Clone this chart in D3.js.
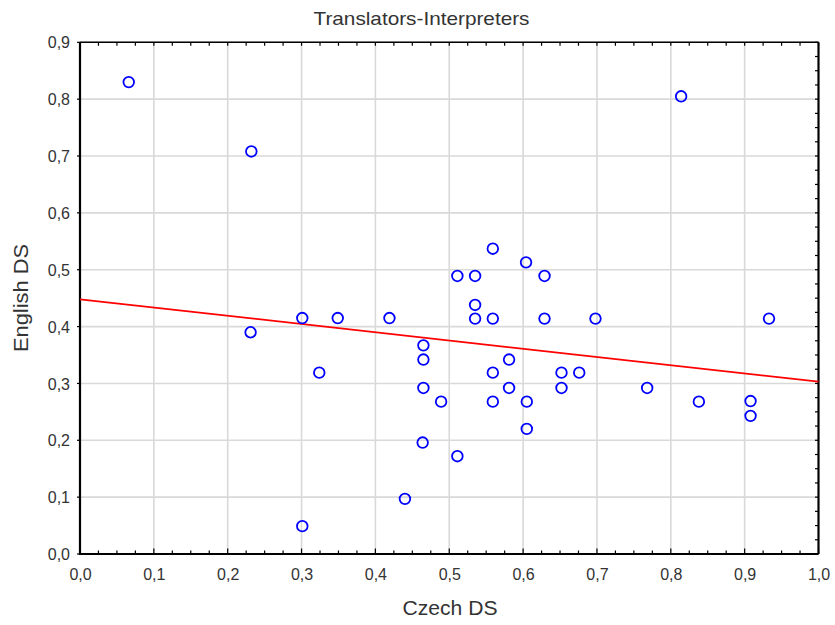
<!DOCTYPE html>
<html>
<head>
<meta charset="utf-8">
<script src="https://cdn.jsdelivr.net/npm/d3@7/dist/d3.min.js"></script>
<style>
  html, body { margin: 0; padding: 0; background: #fff; }
  svg { display: block; }
  text { font-family: Arial, "Liberation Sans", sans-serif; fill: #333; }
</style>
</head>
<body>
<svg id="chart" width="835" height="625"></svg>
<script>
// Scatter of Czech DS vs English DS scores (translators-interpreters group)
const czechDS = [
  0.066, 0.232, 0.814, 0.231, 0.301, 0.349, 0.419, 0.324, 0.301, 0.440,
  0.465, 0.465, 0.465, 0.489, 0.464, 0.511, 0.559, 0.559, 0.581, 0.581,
  0.605, 0.605, 0.652, 0.652, 0.676, 0.768, 0.838, 0.908, 0.908, 0.933,
  0.535, 0.559, 0.629, 0.698, 0.535, 0.559, 0.604, 0.511, 0.535, 0.629
];
const englishDS = [
  0.830, 0.708, 0.805, 0.390, 0.415, 0.415, 0.415, 0.319, 0.049, 0.097,
  0.367, 0.342, 0.292, 0.268, 0.196, 0.172, 0.319, 0.268, 0.342, 0.292,
  0.268, 0.220, 0.319, 0.292, 0.319, 0.292, 0.268, 0.269, 0.243, 0.414,
  0.414, 0.414, 0.414, 0.414, 0.438, 0.537, 0.513, 0.489, 0.489, 0.489
];
// Linear fit line: English DS = intercept + slope * Czech DS
const fitIntercept = 0.448;
const fitSlope = -0.145;

const xTicks = [0, 0.1, 0.2, 0.3, 0.4, 0.5, 0.6, 0.7, 0.8, 0.9, 1.0];
const yTicks = [0, 0.1, 0.2, 0.3, 0.4, 0.5, 0.6, 0.7, 0.8, 0.9];
const xMinor = d3.range(0, 1.0001, 0.025);
const yMinor = d3.range(0, 0.9001, 0.025);

const titleText = "Translators-Interpreters";
const xTitle = "Czech DS";
const yTitle = "English DS";

const svg = d3.select("#chart");
const pL = 80, pR = 818.5, pT = 42.3, pB = 554;

const x = d3.scaleLinear().domain([0, 1]).range([pL, pR]);
const y = d3.scaleLinear().domain([0, 0.9]).range([pB, pT]);

const locale = d3.formatLocale({ decimal: ",", thousands: " ", grouping: [3], currency: ["", ""] });
const fmt = locale.format(".1f");

svg.append("rect").attr("width", 835).attr("height", 625).attr("fill", "#fff");

// grid
const grid = svg.append("g").attr("stroke", "#d9d9d9").attr("stroke-width", 1.6);
grid.selectAll("line.gx").data(xTicks.slice(1, -1)).join("line")
  .attr("x1", d => x(d)).attr("x2", d => x(d)).attr("y1", pT).attr("y2", pB);
grid.selectAll("line.gy").data(yTicks.slice(1)).join("line")
  .attr("y1", d => y(d)).attr("y2", d => y(d)).attr("x1", pL).attr("x2", pR);

// inward minor ticks on the frame edges
const isMajor = d => Math.abs(d * 10 - Math.round(d * 10)) < 1e-6;
const tk = svg.append("g").attr("stroke", "#000").attr("stroke-width", 1.2);
tk.selectAll("line.t").data(xMinor).join("line")
  .attr("x1", d => x(d)).attr("x2", d => x(d)).attr("y1", pT).attr("y2", pT + 3.5);
tk.selectAll("line.b").data(xMinor).join("line")
  .attr("x1", d => x(d)).attr("x2", d => x(d)).attr("y1", pB)
  .attr("y2", d => pB - (isMajor(d) ? 5.5 : 3.5));
tk.selectAll("line.r").data(yMinor).join("line")
  .attr("y1", d => y(d)).attr("y2", d => y(d)).attr("x1", pR).attr("x2", pR - 3.5);
tk.selectAll("line.l").data(yTicks).join("line")
  .attr("y1", d => y(d)).attr("y2", d => y(d)).attr("x1", pL).attr("x2", pL - 3);

// frame
svg.append("path")
  .attr("d", `M${pL},${pT}H${pR}`)
  .attr("fill", "none").attr("stroke", "#000").attr("stroke-width", 1.6);
svg.append("path")
  .attr("d", `M${pR},${pT}V${pB}`)
  .attr("fill", "none").attr("stroke", "#000").attr("stroke-width", 2.2);
svg.append("path")
  .attr("d", `M${pL},${pT}V${pB}H${pR}`)
  .attr("fill", "none").attr("stroke", "#000").attr("stroke-width", 2.2);

// tick labels through d3 axes
const xAxis = svg.append("g").attr("transform", `translate(0,${pB})`)
  .call(d3.axisBottom(x).tickValues(xTicks).tickFormat(fmt).tickSize(0).tickPadding(14));
const yAxis = svg.append("g").attr("transform", `translate(${pL},0)`)
  .call(d3.axisLeft(y).tickValues(yTicks).tickFormat(fmt).tickSize(0).tickPadding(10));
[xAxis, yAxis].forEach(a => {
  a.select(".domain").remove();
  a.selectAll("text").attr("font-size", 16).attr("fill", "#3a3a3a")
    .style("font-family", "Arial, 'Liberation Sans', sans-serif");
});
xAxis.selectAll("text").attr("dy", "0.71em").attr("y", 15);
yAxis.selectAll("text").attr("dy", "0.35em");

// fit line
const lineData = [0, 1].map(v => [v, fitIntercept + fitSlope * v]);
svg.append("path")
  .datum(lineData)
  .attr("d", d3.line().x(d => x(d[0])).y(d => y(d[1])))
  .attr("fill", "none").attr("stroke", "#ff0000").attr("stroke-width", 1.8);

// points
svg.append("g").selectAll("circle").data(czechDS.map((c, i) => [c, englishDS[i]])).join("circle")
  .attr("cx", d => x(d[0])).attr("cy", d => y(d[1])).attr("r", 5.3)
  .attr("fill", "none").attr("stroke", "#0000ff").attr("stroke-width", 1.8);

// titles
svg.append("text").attr("x", 421.5).attr("y", 25).attr("text-anchor", "middle")
  .attr("font-size", 19).attr("textLength", 216).attr("lengthAdjust", "spacingAndGlyphs")
  .text(titleText);
svg.append("text").attr("x", 450).attr("y", 615).attr("text-anchor", "middle")
  .attr("font-size", 20).attr("textLength", 95).attr("lengthAdjust", "spacingAndGlyphs")
  .text(xTitle);
svg.append("text").attr("transform", "translate(28,298) rotate(-90)").attr("text-anchor", "middle")
  .attr("font-size", 20).attr("textLength", 108).attr("lengthAdjust", "spacingAndGlyphs")
  .text(yTitle);
</script>
</body>
</html>
